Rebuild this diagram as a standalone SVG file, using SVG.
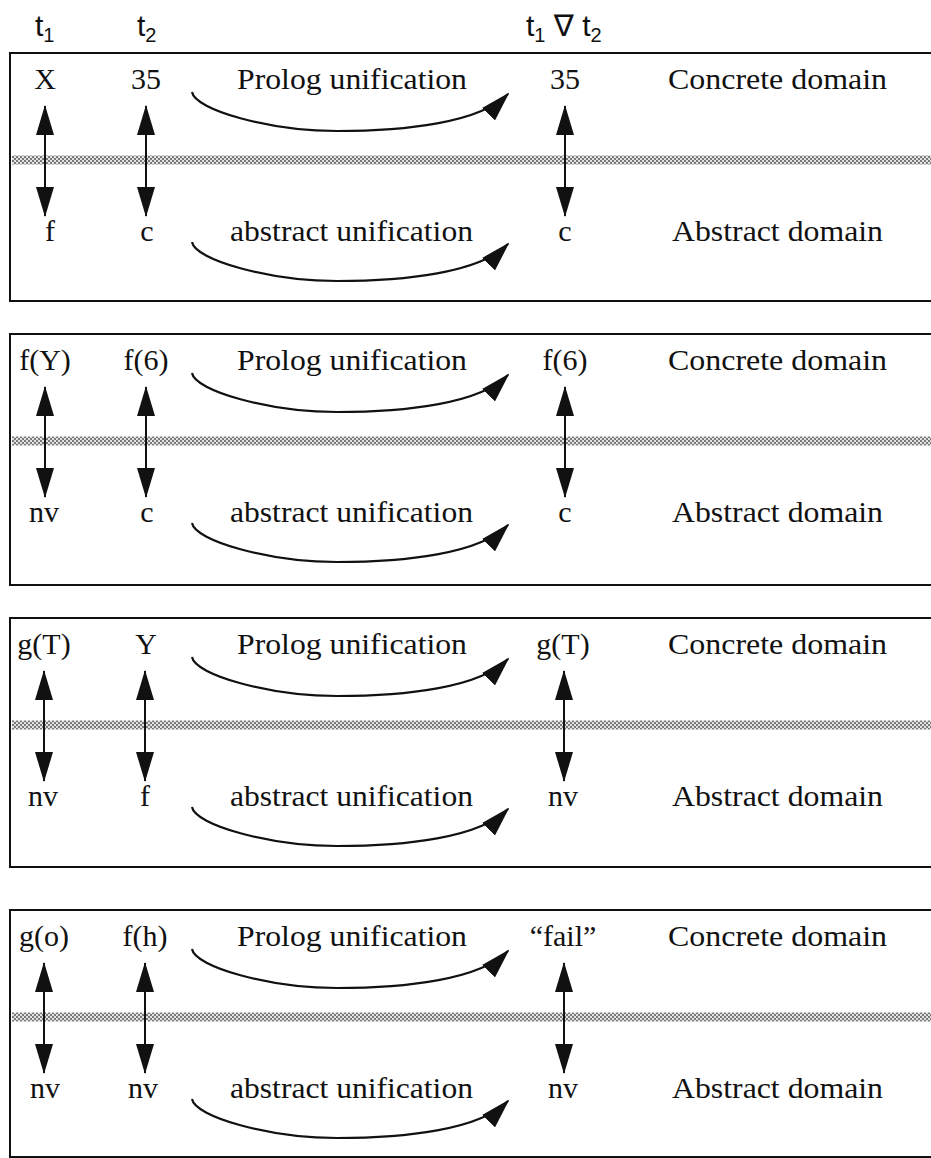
<svg xmlns="http://www.w3.org/2000/svg" width="931" height="1158" viewBox="0 0 931 1158">
  <style>
    .frame { fill: none; stroke: #111; stroke-width: 2; }
    .band { fill: url(#dither); }
    .lbl { font-family: "Liberation Serif", "Times New Roman", serif; font-size: 30px; fill: #111; }
    .mid { text-anchor: middle; }
    .hdr { font-family: "Liberation Sans", Arial, "DejaVu Sans", sans-serif; font-size: 30px; fill: #111; }
    .sub { font-size: 20px; }
    .map { fill: none; stroke: #111; stroke-width: 2; marker-start: url(#vhead); marker-end: url(#vhead); }
    .uni { fill: none; stroke: #111; stroke-width: 2.2; marker-end: url(#chead); }
  </style>
  <defs>
    <!-- halftone fill for the separator band -->
    <pattern id="dither" width="4" height="4" patternUnits="userSpaceOnUse">
      <rect width="4" height="4" fill="#e2e2e2"/>
      <rect width="2" height="2" fill="#7a7a7a"/>
      <rect x="2" y="2" width="2" height="2" fill="#7a7a7a"/>
    </pattern>
    <marker id="vhead" viewBox="0 0 30 18" refX="29" refY="9" markerWidth="30" markerHeight="18" markerUnits="userSpaceOnUse" orient="auto-start-reverse">
      <path d="M0,0 L30,9 L0,18 z" fill="#111"/>
    </marker>
    <marker id="chead" viewBox="0 0 30 18" refX="28" refY="9" markerWidth="30" markerHeight="18" markerUnits="userSpaceOnUse" orient="auto">
      <path d="M0,0 L30,9 L0,18 z" fill="#111"/>
    </marker>
  </defs>

  <!-- column headings -->
  <g id="headings">
    <text class="hdr" x="35" y="36">t<tspan class="sub" dy="6">1</tspan></text>
    <text class="hdr" x="137" y="36">t<tspan class="sub" dy="6">2</tspan></text>
    <text class="hdr" x="526" y="36">t<tspan class="sub" dy="6">1</tspan><tspan dy="-6"> ∇ t</tspan><tspan class="sub" dy="6">2</tspan></text>
  </g>

  <!-- panel 1: X / 35 -->
  <g id="panel1">
    <rect class="frame" x="10" y="53" width="940" height="248"/>
    <rect class="band" x="12" y="155.5" width="930" height="9"/>
    <text class="lbl mid" x="45" y="89">X</text>
    <text class="lbl mid" x="146" y="89">35</text>
    <text class="lbl" x="237" y="89" textLength="230" lengthAdjust="spacingAndGlyphs">Prolog unification</text>
    <text class="lbl mid" x="565" y="89">35</text>
    <text class="lbl" x="668" y="89" textLength="219" lengthAdjust="spacingAndGlyphs">Concrete domain</text>
    <text class="lbl mid" x="50" y="241">f</text>
    <text class="lbl mid" x="147" y="241">c</text>
    <text class="lbl" x="230" y="241" textLength="243" lengthAdjust="spacingAndGlyphs">abstract unification</text>
    <text class="lbl mid" x="565" y="241">c</text>
    <text class="lbl" x="672" y="241" textLength="211" lengthAdjust="spacingAndGlyphs">Abstract domain</text>
  </g>

  <!-- panel 2: f(Y) / f(6) -->
  <g id="panel2">
    <rect class="frame" x="10" y="334" width="940" height="251"/>
    <rect class="band" x="12" y="436.5" width="930" height="9"/>
    <text class="lbl mid" x="45" y="370">f(Y)</text>
    <text class="lbl mid" x="146" y="370">f(6)</text>
    <text class="lbl" x="237" y="370" textLength="230" lengthAdjust="spacingAndGlyphs">Prolog unification</text>
    <text class="lbl mid" x="565" y="370">f(6)</text>
    <text class="lbl" x="668" y="370" textLength="219" lengthAdjust="spacingAndGlyphs">Concrete domain</text>
    <text class="lbl mid" x="44" y="522">nv</text>
    <text class="lbl mid" x="147" y="522">c</text>
    <text class="lbl" x="230" y="522" textLength="243" lengthAdjust="spacingAndGlyphs">abstract unification</text>
    <text class="lbl mid" x="565" y="522">c</text>
    <text class="lbl" x="672" y="522" textLength="211" lengthAdjust="spacingAndGlyphs">Abstract domain</text>
  </g>

  <!-- panel 3: g(T) / Y -->
  <g id="panel3">
    <rect class="frame" x="10" y="618" width="940" height="249"/>
    <rect class="band" x="12" y="720.5" width="930" height="9"/>
    <text class="lbl mid" x="44" y="654">g(T)</text>
    <text class="lbl mid" x="146" y="654">Y</text>
    <text class="lbl" x="237" y="654" textLength="230" lengthAdjust="spacingAndGlyphs">Prolog unification</text>
    <text class="lbl mid" x="563" y="654">g(T)</text>
    <text class="lbl" x="668" y="654" textLength="219" lengthAdjust="spacingAndGlyphs">Concrete domain</text>
    <text class="lbl mid" x="43" y="806">nv</text>
    <text class="lbl mid" x="145" y="806">f</text>
    <text class="lbl" x="230" y="806" textLength="243" lengthAdjust="spacingAndGlyphs">abstract unification</text>
    <text class="lbl mid" x="563" y="806">nv</text>
    <text class="lbl" x="672" y="806" textLength="211" lengthAdjust="spacingAndGlyphs">Abstract domain</text>
  </g>

  <!-- panel 4: g(o) / f(h) -->
  <g id="panel4">
    <rect class="frame" x="10" y="910" width="940" height="247"/>
    <rect class="band" x="12" y="1012.5" width="930" height="9"/>
    <text class="lbl mid" x="44" y="946">g(o)</text>
    <text class="lbl mid" x="145" y="946">f(h)</text>
    <text class="lbl" x="237" y="946" textLength="230" lengthAdjust="spacingAndGlyphs">Prolog unification</text>
    <text class="lbl mid" x="563" y="946">“fail”</text>
    <text class="lbl" x="668" y="946" textLength="219" lengthAdjust="spacingAndGlyphs">Concrete domain</text>
    <text class="lbl mid" x="45" y="1098">nv</text>
    <text class="lbl mid" x="143" y="1098">nv</text>
    <text class="lbl" x="230" y="1098" textLength="243" lengthAdjust="spacingAndGlyphs">abstract unification</text>
    <text class="lbl mid" x="563" y="1098">nv</text>
    <text class="lbl" x="672" y="1098" textLength="211" lengthAdjust="spacingAndGlyphs">Abstract domain</text>
  </g>

  <!-- connectors: abstraction/concretisation links and unification arrows -->
  <g id="connectors">
    <!-- panel 1 -->
    <line class="map" x1="45" y1="106" x2="45" y2="216"/>
    <line class="map" x1="146" y1="106" x2="146" y2="216"/>
    <line class="map" x1="565" y1="106" x2="565" y2="216"/>
    <path class="uni" d="M192,92 C195,110 270,131 337,131 S480,123 508,94"/>
    <path class="uni" d="M192,242 C195,260 270,281 337,281 S480,273 508,244"/>
    <!-- panel 2 -->
    <line class="map" x1="45" y1="387" x2="45" y2="497"/>
    <line class="map" x1="146" y1="387" x2="146" y2="497"/>
    <line class="map" x1="565" y1="387" x2="565" y2="497"/>
    <path class="uni" d="M192,373 C195,391 270,412 337,412 S480,404 508,375"/>
    <path class="uni" d="M192,523 C195,541 270,562 337,562 S480,554 508,525"/>
    <!-- panel 3 -->
    <line class="map" x1="44" y1="671" x2="44" y2="781"/>
    <line class="map" x1="145" y1="671" x2="145" y2="781"/>
    <line class="map" x1="564" y1="671" x2="564" y2="781"/>
    <path class="uni" d="M192,657 C195,675 270,696 337,696 S480,688 508,659"/>
    <path class="uni" d="M192,807 C195,825 270,846 337,846 S480,838 508,809"/>
    <!-- panel 4 -->
    <line class="map" x1="44" y1="963" x2="44" y2="1073"/>
    <line class="map" x1="145" y1="963" x2="145" y2="1073"/>
    <line class="map" x1="564" y1="963" x2="564" y2="1073"/>
    <path class="uni" d="M192,949 C195,967 270,988 337,988 S480,980 508,951"/>
    <path class="uni" d="M192,1099 C195,1117 270,1138 337,1138 S480,1130 508,1101"/>
  </g>
</svg>
